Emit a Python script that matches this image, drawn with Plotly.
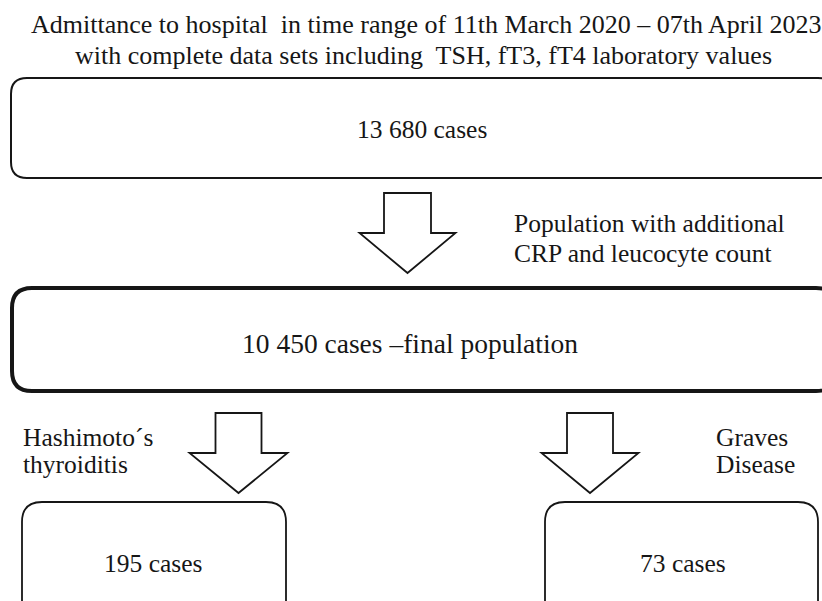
import plotly.graph_objects as go

# ---- data (content of the flowchart) ----
title_lines = [
    "Admittance to hospital  in time range of 11th March 2020 \u2013 07th April 2023",
    "with complete data sets including  TSH, fT3, fT4 laboratory values",
]
case_counts = ["13 680", "10 450", "195", "73"]
case_suffix = [" cases", " cases \u2013final population", " cases", " cases"]
step_notes = [
    ["Population with additional", "CRP and leucocyte count"],
    ["Hashimoto\u00b4s", "thyroiditis"],
    ["Graves", "Disease"],
]

# ---- layout geometry (pixel space) ----
W, H = 822, 601
boxes = [  # x0, y0, x1, y1, radius, line width, label center, label size
    dict(x0=11, y0=78, x1=834, y1=178, r=16, lw=2.0, cx=422, cy=129, fs=25.5),
    dict(x0=12, y0=288, x1=836, y1=391, r=20, lw=4.0, cx=410, cy=343, fs=27.5),
    dict(x0=22, y0=502, x1=286, y1=625, r=20, lw=1.8, cx=153, cy=563, fs=25.5),
    dict(x0=545, y0=502, x1=818, y1=625, r=20, lw=1.8, cx=683, cy=563, fs=25.5),
]
arrows = [  # center x, top, shoulder y, tip y, shaft half width, head half width
    dict(cx=407.5, top=193, sh=233, tip=273, sw=23.5, hw=48),
    dict(cx=238.5, top=413, sh=453, tip=493, sw=23, hw=49),
    dict(cx=590, top=413, sh=453, tip=493, sw=23, hw=48.5),
]
note_pos = [
    dict(x=512, ys=[223, 253], anchor="left"),
    dict(x=21, ys=[437, 464], anchor="left"),
    dict(x=714, ys=[437, 464], anchor="left"),
]
title_pos = [dict(x=426, y=24), dict(x=423, y=55)]
FONT = "Liberation Serif"
INK = "#161616"
FS = 25.5
TITLE_FS = 26


def rounded_rect(b):
    x0, y0, x1, y1, r = b["x0"], b["y0"], b["x1"], b["y1"], b["r"]
    return (f"M {x0+r},{y0} L {x1-r},{y0} Q {x1},{y0} {x1},{y0+r} "
            f"L {x1},{y1-r} Q {x1},{y1} {x1-r},{y1} L {x0+r},{y1} "
            f"Q {x0},{y1} {x0},{y1-r} L {x0},{y0+r} Q {x0},{y0} {x0+r},{y0} Z")


def arrow_path(a):
    c, t, s, p, sw, hw = a["cx"], a["top"], a["sh"], a["tip"], a["sw"], a["hw"]
    return (f"M {c-sw},{t} L {c+sw},{t} L {c+sw},{s} L {c+hw},{s} "
            f"L {c},{p} L {c-hw},{s} L {c-sw},{s} Z")


fig = go.Figure()
fig.add_trace(go.Scatter(x=[0, W], y=[0, H], mode="markers",
                         marker=dict(opacity=0), hoverinfo="skip", showlegend=False))

for b in boxes:
    fig.add_shape(type="path", path=rounded_rect(b), xref="x", yref="y",
                  line=dict(color=INK, width=b["lw"]), fillcolor="white")
for a in arrows:
    fig.add_shape(type="path", path=arrow_path(a), xref="x", yref="y",
                  line=dict(color=INK, width=1.8), fillcolor="white")

for line, p in zip(title_lines, title_pos):
    fig.add_annotation(x=p["x"], y=p["y"], text=line, showarrow=False, xref="x", yref="y",
                       xanchor="center", yanchor="middle",
                       font=dict(family=FONT, size=TITLE_FS, color=INK))
for b, n, s in zip(boxes, case_counts, case_suffix):
    fig.add_annotation(x=b["cx"], y=b["cy"], text=n + s, showarrow=False,
                       xref="x", yref="y", xanchor="center", yanchor="middle",
                       font=dict(family=FONT, size=b["fs"], color=INK))
for note, pos in zip(step_notes, note_pos):
    for line, y in zip(note, pos["ys"]):
        fig.add_annotation(x=pos["x"], y=y, text=line, showarrow=False,
                           xref="x", yref="y", xanchor=pos["anchor"], yanchor="middle",
                           font=dict(family=FONT, size=FS, color=INK))

fig.update_layout(
    width=W, height=H, margin=dict(l=0, r=0, t=0, b=0),
    paper_bgcolor="white", plot_bgcolor="white",
    xaxis=dict(range=[0, W], visible=False, fixedrange=True),
    yaxis=dict(range=[H, 0], visible=False, fixedrange=True),
    showlegend=False,
)

fig.write_html("out.html", config=dict(displayModeBar=False),
               post_script="document.body.style.margin='0';document.body.style.overflow='hidden';")
